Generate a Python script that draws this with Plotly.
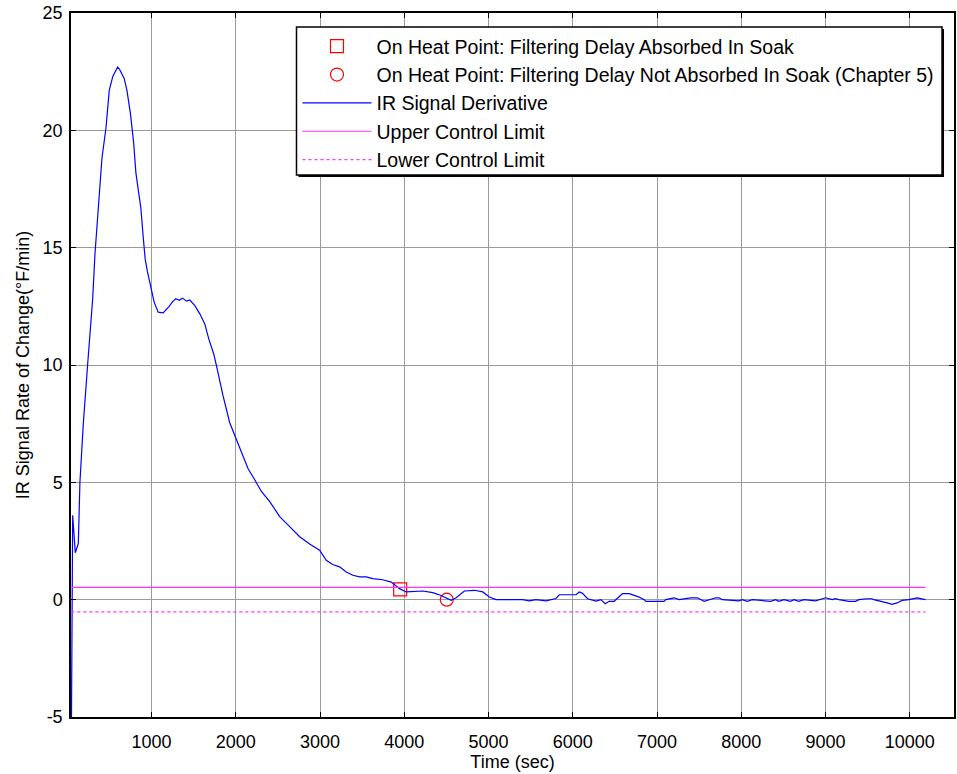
import plotly.graph_objects as go

# ---- data ----
time_sec = [48, 64, 95, 131, 150, 190, 241, 301, 328, 379, 411, 459, 498, 540, 597, 620, 650,
            676, 708, 750, 787, 814, 845, 873, 900, 925, 950, 992, 1031, 1079, 1138, 1209, 1250,
            1288, 1328, 1368, 1415, 1454, 1514, 1573, 1632, 1680, 1739, 1771, 1849, 1928, 2008,
            2067, 2106, 2146, 2225, 2304, 2403, 2521, 2640, 2758, 2877, 2995, 3074, 3150, 3232,
            3311, 3390, 3469, 3548, 3627, 3745, 3845, 3943, 4023, 4220, 4338, 4437, 4556, 4615,
            4714, 4832, 4931, 5010, 5089, 5405, 5484, 5563, 5682, 5800, 5840, 6038, 6077, 6116,
            6176, 6274, 6334, 6385, 6432, 6492, 6590, 6670, 6709, 6749, 6788, 6847, 6867, 7084,
            7104, 7203, 7262, 7400, 7479, 7558, 7617, 7697, 7736, 7775, 7973, 8012, 8071, 8131,
            8348, 8408, 8447, 8506, 8585, 8625, 8684, 8743, 8882, 8921, 9001, 9080, 9119, 9159,
            9277, 9356, 9396, 9494, 9553, 9573, 9672, 9731, 9790, 9850, 9909, 9988, 10087, 10146,
            10186]
ir_derivative = [-6.0, 3.6, 2.0, 2.4, 5.0, 7.5, 10.0, 12.8, 14.7, 17.2, 18.8, 20.1, 21.7, 22.3,
                 22.7, 22.6, 22.4, 22.2, 21.7, 20.7, 19.5, 18.2, 17.4, 16.7, 15.5, 14.5, 14.0,
                 13.25, 12.68, 12.25, 12.22, 12.5, 12.7, 12.82, 12.76, 12.85, 12.72, 12.77, 12.53,
                 12.18, 11.75, 11.1, 10.46, 9.96, 8.68, 7.54, 6.82, 6.25, 5.97, 5.58, 5.11, 4.61,
                 4.18, 3.54, 3.11, 2.68, 2.37, 2.11, 1.68, 1.5, 1.40, 1.18, 1.04, 0.97, 0.97, 0.9,
                 0.85, 0.75, 0.47, 0.33, 0.37, 0.30, 0.18, -0.03, 0.08, 0.37, 0.40, 0.33, 0.11,
                 0.0, 0.0, -0.05, 0.0, -0.05, 0.05, 0.21, 0.21, 0.33, 0.27, 0.04, -0.06, 0.0,
                 -0.17, -0.07, -0.07, 0.26, 0.26, 0.22, 0.15, 0.11, 0.0, -0.07, -0.07, 0.0, 0.08,
                 0.0, 0.08, 0.08, -0.07, 0.0, 0.08, 0.08, 0.0, -0.05, 0.0, -0.07, 0.0, -0.07, 0.0,
                 -0.07, 0.0, -0.07, 0.0, -0.07, 0.0, -0.05, 0.0, 0.08, 0.0, 0.04, 0.0, -0.07, -0.07,
                 0.0, 0.04, 0.04, 0.0, -0.07, -0.14, -0.2, -0.14, -0.03, 0.0, 0.08, 0.04, 0.0]

upper_limit = 0.52
lower_limit = -0.52

absorbed_point_x = [3951]
absorbed_point_y = [0.44]
not_absorbed_point_x = [4504]
not_absorbed_point_y = [0.0]

x_tick_vals = [1000, 2000, 3000, 4000, 5000, 6000, 7000, 8000, 9000, 10000]
x_tick_text = ["1000", "2000", "3000", "4000", "5000", "6000", "7000", "8000", "9000", "10000"]
y_tick_vals = [-5, 0, 5, 10, 15, 20, 25]
y_tick_text = ["-5", "0", "5", "10", "15", "20", "25"]
x_range = [44, 10525]
y_range = [-5, 25]

FONT = "Liberation Sans, Arial, sans-serif"

fig = go.Figure()
fig.add_trace(go.Scatter(
    x=absorbed_point_x, y=absorbed_point_y, mode="markers",
    name="On Heat Point: Filtering Delay Absorbed In Soak",
    marker=dict(symbol="square-open", size=13, color="#ff0000", line=dict(width=1.2))))
fig.add_trace(go.Scatter(
    x=not_absorbed_point_x, y=not_absorbed_point_y, mode="markers",
    name="On Heat Point: Filtering Delay Not Absorbed In Soak (Chapter 5)",
    marker=dict(symbol="circle-open", size=13, color="#ff0000", line=dict(width=1.2))))
fig.add_trace(go.Scatter(
    x=time_sec, y=ir_derivative, mode="lines", name="IR Signal Derivative",
    line=dict(color="#0000ff", width=1.2)))
fig.add_trace(go.Scatter(
    x=[time_sec[0], time_sec[-1]], y=[upper_limit, upper_limit], mode="lines",
    name="Upper Control Limit", line=dict(color="#ff33ff", width=1.2)))
fig.add_trace(go.Scatter(
    x=[time_sec[0], time_sec[-1]], y=[lower_limit, lower_limit], mode="lines",
    name="Lower Control Limit", line=dict(color="#ff33ff", width=1.2, dash="dot")))

axis_common = dict(
    showline=True, linecolor="black", linewidth=1.5, mirror="ticks",
    ticks="inside", ticklen=5, tickcolor="black", tickwidth=1,
    showgrid=True, gridcolor="#9a9a9a", gridwidth=1, zeroline=False,
    tickfont=dict(family=FONT, size=18, color="black"),
)

# legend box drawn as shapes (MATLAB style, with drop shadow), paper coordinates
PW, PH, ML, MT = 885.0, 704.0, 71.0, 13.0
def px2paper_x(px):
    return (px - ML) / PW
def px2paper_y(py):
    return 1 - (py - MT) / PH

box_l, box_t, box_r, box_b = 297, 27, 944, 175
shapes = [
    dict(type="rect", xref="paper", yref="paper",
         x0=px2paper_x(box_l + 2), x1=px2paper_x(box_r + 2),
         y0=px2paper_y(box_b + 2), y1=px2paper_y(box_t + 2),
         fillcolor="black", line=dict(width=0), layer="above"),
    dict(type="rect", xref="paper", yref="paper",
         x0=px2paper_x(box_l), x1=px2paper_x(box_r),
         y0=px2paper_y(box_b), y1=px2paper_y(box_t),
         fillcolor="white", line=dict(color="black", width=1.5), layer="above"),
]

fig.update_layout(
    width=957, height=774,
    margin=dict(l=71, r=1, t=13, b=57),
    paper_bgcolor="white", plot_bgcolor="white",
    font=dict(family=FONT, size=18, color="black"),
    xaxis=dict(range=x_range, tickvals=x_tick_vals, ticktext=x_tick_text, ticklabelstandoff=8,
               title=dict(text="Time (sec)", font=dict(family=FONT, size=18), standoff=3),
               **axis_common),
    yaxis=dict(range=y_range, tickvals=y_tick_vals, ticktext=y_tick_text, ticklabelstandoff=3,
               title=dict(text="IR Signal Rate of Change(°F/min)", font=dict(family=FONT, size=18), standoff=8),
               **axis_common),
    legend=dict(x=px2paper_x(box_l + 1), y=px2paper_y(box_t), xanchor="left", yanchor="top",
                bgcolor="rgba(0,0,0,0)", borderwidth=0,
                font=dict(family=FONT, size=19.5, color="black"),
                itemwidth=69, tracegroupgap=0),
    shapes=shapes,
    showlegend=True,
)

fig.write_html("out.html")
